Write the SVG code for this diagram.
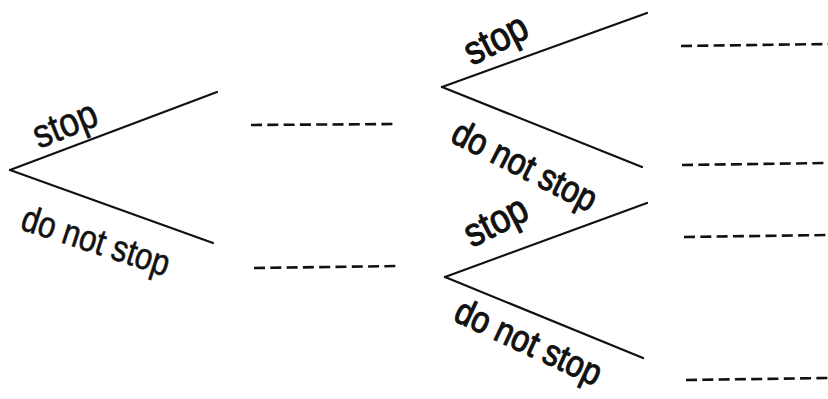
<svg xmlns="http://www.w3.org/2000/svg" width="828" height="399" viewBox="0 0 828 399">
<style>
.br{stroke:#111;stroke-width:2.2;fill:none;stroke-linecap:round}
.ds{stroke:#111;stroke-width:2.6;fill:none;stroke-dasharray:11 5.3}
.lb{font-family:"Liberation Sans",Arial,sans-serif;font-size:37px;fill:#111;stroke:#111;stroke-width:0.6}
.st{font-size:40px}
.hv{stroke-width:1.1}
</style>
<rect width="828" height="399" fill="#fff"/>
<g id="connectors">
<line class="br" x1="10" y1="170" x2="217" y2="92"/>
<line class="br" x1="10" y1="170" x2="213" y2="243"/>
<line class="br" x1="442" y1="87" x2="647" y2="13"/>
<line class="br" x1="442" y1="87" x2="642" y2="167"/>
<line class="br" x1="445" y1="277" x2="647" y2="203"/>
<line class="br" x1="445" y1="277" x2="643" y2="358"/>
</g>
<g id="node-root">
<text class="lb st" transform="translate(39,149) rotate(-22) scale(0.88,1)">stop</text>
<text class="lb" transform="translate(19,229) rotate(18) scale(0.84,1)">do not stop</text>
</g>
<g id="node-level1-upper">
<line class="ds" x1="251" y1="125" x2="397" y2="124"/>
<text class="lb st hv" transform="translate(472,66) rotate(-27) scale(0.88,1)">stop</text>
<text class="lb hv" transform="translate(449,141) rotate(27) scale(0.86,1)">do not stop</text>
</g>
<g id="node-level1-lower">
<line class="ds" x1="254" y1="268" x2="399" y2="266"/>
<text class="lb st hv" transform="translate(472,248) rotate(-27) scale(0.88,1)">stop</text>
<text class="lb hv" transform="translate(452,320) rotate(25) scale(0.86,1)">do not stop</text>
</g>
<g id="node-outcomes">
<line class="ds" x1="681" y1="46" x2="828" y2="44"/>
<line class="ds" x1="682" y1="165" x2="828" y2="163"/>
<line class="ds" x1="684" y1="237" x2="828" y2="235"/>
<line class="ds" x1="686" y1="380" x2="828" y2="378"/>
</g>
</svg>
